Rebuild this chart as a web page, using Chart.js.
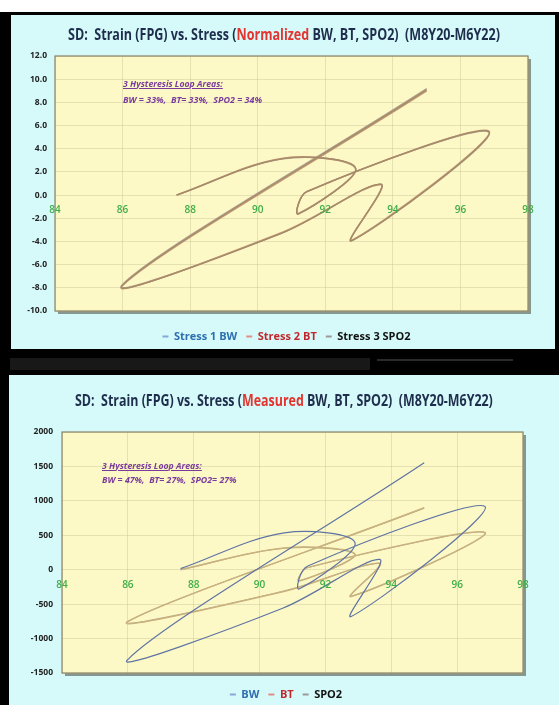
<!DOCTYPE html>
<html>
<head>
<meta charset="utf-8">
<script src="https://cdn.jsdelivr.net/npm/chart.js@4.4.0/dist/chart.umd.min.js"></script>
<style>
  body { margin: 0; width: 559px; height: 705px; background: #000; position: relative; overflow: hidden; font-family: "Open Sans", sans-serif; }
  .band { position: absolute; left: 0; top: 0; width: 559px; height: 12px; background: #fff; }
  .ghost { position: absolute; left: 10px; top: 358px; width: 360px; height: 12px; background: #181818; }
  .ghost2 { position: absolute; left: 377px; top: 359px; width: 136px; height: 2px; background: #2a2a2a; }
  .panel { position: absolute; background: #d6fafa; overflow: hidden; }
  #p1 { left: 11px; top: 15px; width: 544px; height: 334px; }
  #p2 { left: 9px; top: 375px; width: 550px; height: 330px; }
  .panel canvas { position: absolute; left: 0; top: 0; }
  .title { position: absolute; white-space: nowrap; font-weight: 700; font-size: 16px; color: #1f2d4d; transform-origin: left center; }
  .title .hl { color: #e3342f; }
  .note { position: absolute; white-space: nowrap; font-weight: 700; font-style: italic; font-size: 9.5px; color: #7a3b9c; transform-origin: left center; }
  .note.u { text-decoration: underline; }
</style>
</head>
<body>
<div class="band"></div>
<div class="ghost"></div>
<div class="ghost2"></div>

<div class="panel" id="p1">
  <canvas id="chartNorm" width="544" height="340"></canvas>
  <div class="title" id="t1">SD:&nbsp; Strain (FPG) vs. Stress (<span class="hl">Normalized</span> BW, BT, SPO2)&nbsp; (M8Y20-M6Y22)</div>
  <div class="note u" id="n1a">3 Hysteresis Loop Areas:</div>
  <div class="note" id="n1b">BW = 33%,&nbsp; BT= 33%,&nbsp; SPO2 = 34%</div>
</div>

<div class="panel" id="p2">
  <canvas id="chartMeas" width="550" height="336"></canvas>
  <div class="title" id="t2">SD:&nbsp; Strain (FPG) vs. Stress (<span class="hl">Measured</span> BW, BT, SPO2)&nbsp; (M8Y20-M6Y22)</div>
  <div class="note u" id="n2a">3 Hysteresis Loop Areas:</div>
  <div class="note" id="n2b">BW = 47%,&nbsp; BT= 27%,&nbsp; SPO2= 27%</div>
</div>

<script>
// strain (FPG) path, same for both charts
const fpg = [87.6, 90.75, 92.9, 91.2, 91.45, 96.85, 92.78, 93.65, 90.7, 86.0, 95.0]

// normalized stress
const bwNorm   = [0.0, 3.15, 2.30, -1.64, 0.30, 5.45, -3.94, 0.95, -3.30, -7.75, 9.10]
const btNorm   = [0.0, 3.18, 2.25, -1.60, 0.28, 5.50, -3.90, 0.90, -3.25, -7.80, 9.00]
const spo2Norm = [0.0, 3.12, 2.30, -1.60, 0.30, 5.40, -3.95, 0.95, -3.30, -7.70, 9.20]

// measured stress
const bwMeas   = [15, 535, 390, -280, 50, 915, -680, 150, -560, -1305, 1555]
const btMeas   = [0, 316, 225, -165, 30, 540, -390, 95, -320, -755, 900]
const spo2Meas = [0, 312, 220, -160, 28, 535, -385, 92, -315, -750, 895]

const xTicks = [84, 86, 88, 90, 92, 94, 96, 98]
const yTicksNorm = [-10, -8, -6, -4, -2, 0, 2, 4, 6, 8, 10, 12]
const yTicksMeas = [-1500, -1000, -500, 0, 500, 1000, 1500, 2000]

const namesNorm = ["Stress 1 BW", "Stress 2 BT", "Stress 3 SPO2"]
const namesMeas = ["BW", "BT", "SPO2"]

const FONT = "'Open Sans', sans-serif"
const gridColor = "rgba(200, 195, 150, 0.45)"

const plotFrame = {
  id: "plotFrame",
  beforeDraw(chart) {
    const { ctx, chartArea: a } = chart
    ctx.save()
    ctx.fillStyle = "rgba(70, 70, 55, 0.55)"
    ctx.fillRect(a.left + 3, a.top + 3, a.width, a.height)
    ctx.fillStyle = "#fdf9c6"
    ctx.fillRect(a.left, a.top, a.width, a.height)
    ctx.restore()
  },
  beforeDatasetsDraw(chart) {
    const { ctx, chartArea: a } = chart
    ctx.save()
    ctx.strokeStyle = "#8a8468"
    ctx.lineWidth = 1.2
    ctx.strokeRect(a.left, a.top, a.width, a.height)
    ctx.restore()
  }
}

// the legend sits a bit right of the canvas centre in the original
const legendShift = {
  id: "legendShift",
  afterLayout(chart, args, opts) {
    chart.legend.left += opts.dx
    chart.legend.right += opts.dx
  }
}

function toPoints(xs, ys) {
  return xs.map((x, i) => ({ x: x, y: ys[i] }))
}

function makeChart(canvas, cfg) {
  const legendBox = ["#86a9d8", "#e58a86", "#9a9a9a"]
  const legendText = ["#2e6fb0", "#c0282d", "#111111"]

  return new Chart(canvas, {
    type: "scatter",
    data: {
      datasets: cfg.series.map((ys, i) => ({
        label: cfg.names[i],
        data: toPoints(fpg, ys),
        showLine: true,
        borderColor: cfg.colors[i],
        borderWidth: cfg.widths[i],
        pointRadius: 0,
        tension: 0.35,
        fill: false
      }))
    },
    options: {
      responsive: false,
      animation: false,
      events: [],
      layout: { padding: cfg.padding },
      plugins: {
        title: { display: false },
        tooltip: { enabled: false },
        legendShift: { dx: cfg.legendDx },
        legend: {
          position: "bottom",
          labels: {
            boxWidth: 6,
            boxHeight: 2,
            padding: 9,
            font: { family: FONT, size: 11, weight: "bold" },
            generateLabels: () => cfg.names.map((n, i) => ({
              text: n,
              fillStyle: legendBox[i],
              strokeStyle: legendBox[i],
              lineWidth: 0,
              fontColor: legendText[i],
              hidden: false,
              datasetIndex: i
            }))
          }
        }
      },
      scales: {
        x: {
          type: "linear",
          min: 84,
          max: 98,
          position: { y: 0 },
          afterBuildTicks: s => { s.ticks = xTicks.map(v => ({ value: v })) },
          grid: { color: gridColor, drawTicks: false },
          border: { display: false },
          ticks: { padding: 9, color: "#3fae49", font: { family: FONT, size: 10, weight: "600" }, z: 1 }
        },
        y: {
          type: "linear",
          min: cfg.yTicks[0],
          max: cfg.yTicks[cfg.yTicks.length - 1],
          afterBuildTicks: s => { s.ticks = cfg.yTicks.map(v => ({ value: v })) },
          afterFit: s => { s.width = cfg.axisWidth },
          grid: { color: gridColor, drawTicks: false },
          border: { display: false },
          ticks: {
            padding: cfg.tickPad,
            color: "#222222",
            font: { family: FONT, size: 8.5, weight: "bold" },
            callback: cfg.fmt
          }
        },
        spacer: {
          type: "linear",
          axis: "x",
          position: "bottom",
          min: 0,
          max: 1,
          grid: { display: false },
          border: { display: false },
          ticks: { display: false },
          afterFit: s => { s.height = cfg.spacer }
        }
      }
    },
    plugins: [plotFrame, legendShift]
  })
}

makeChart(document.getElementById("chartNorm"), {
  series: [bwNorm, btNorm, spo2Norm],
  names: namesNorm,
  colors: ["#a4896b", "#c19b72", "#b0a592"],
  widths: [1.3, 1.6, 1.3],
  yTicks: yTicksNorm,
  fmt: v => Number(v).toFixed(1),
  axisWidth: 44,
  tickPad: 8,
  spacer: 11,
  legendDx: 17,
  padding: { top: 41, left: 0, right: 27, bottom: 3 }
})

makeChart(document.getElementById("chartMeas"), {
  series: [bwMeas, btMeas, spo2Meas],
  names: namesMeas,
  colors: ["#5f74a3", "#c9b27e", "#b9ab8b"],
  widths: [1.2, 1.4, 1.2],
  yTicks: yTicksMeas,
  fmt: v => String(v),
  axisWidth: 53,
  tickPad: 9,
  spacer: 7,
  legendDx: 20,
  padding: { top: 57, left: 0, right: 36, bottom: 1 }
})

function place(id, left, midY, width) {
  const el = document.getElementById(id)
  el.style.left = left + "px"
  const w = el.offsetWidth
  const h = el.offsetHeight
  el.style.top = (midY - h / 2) + "px"
  el.style.transform = `scaleX(${width / w})`
}

place("t1", 57, 19, 432)
place("n1a", 112, 68, 100)
place("n1b", 112, 84, 139)
place("t2", 66, 25, 418)
place("n2a", 93, 90, 100)
place("n2b", 93, 104, 135)
</script>
</body>
</html>
